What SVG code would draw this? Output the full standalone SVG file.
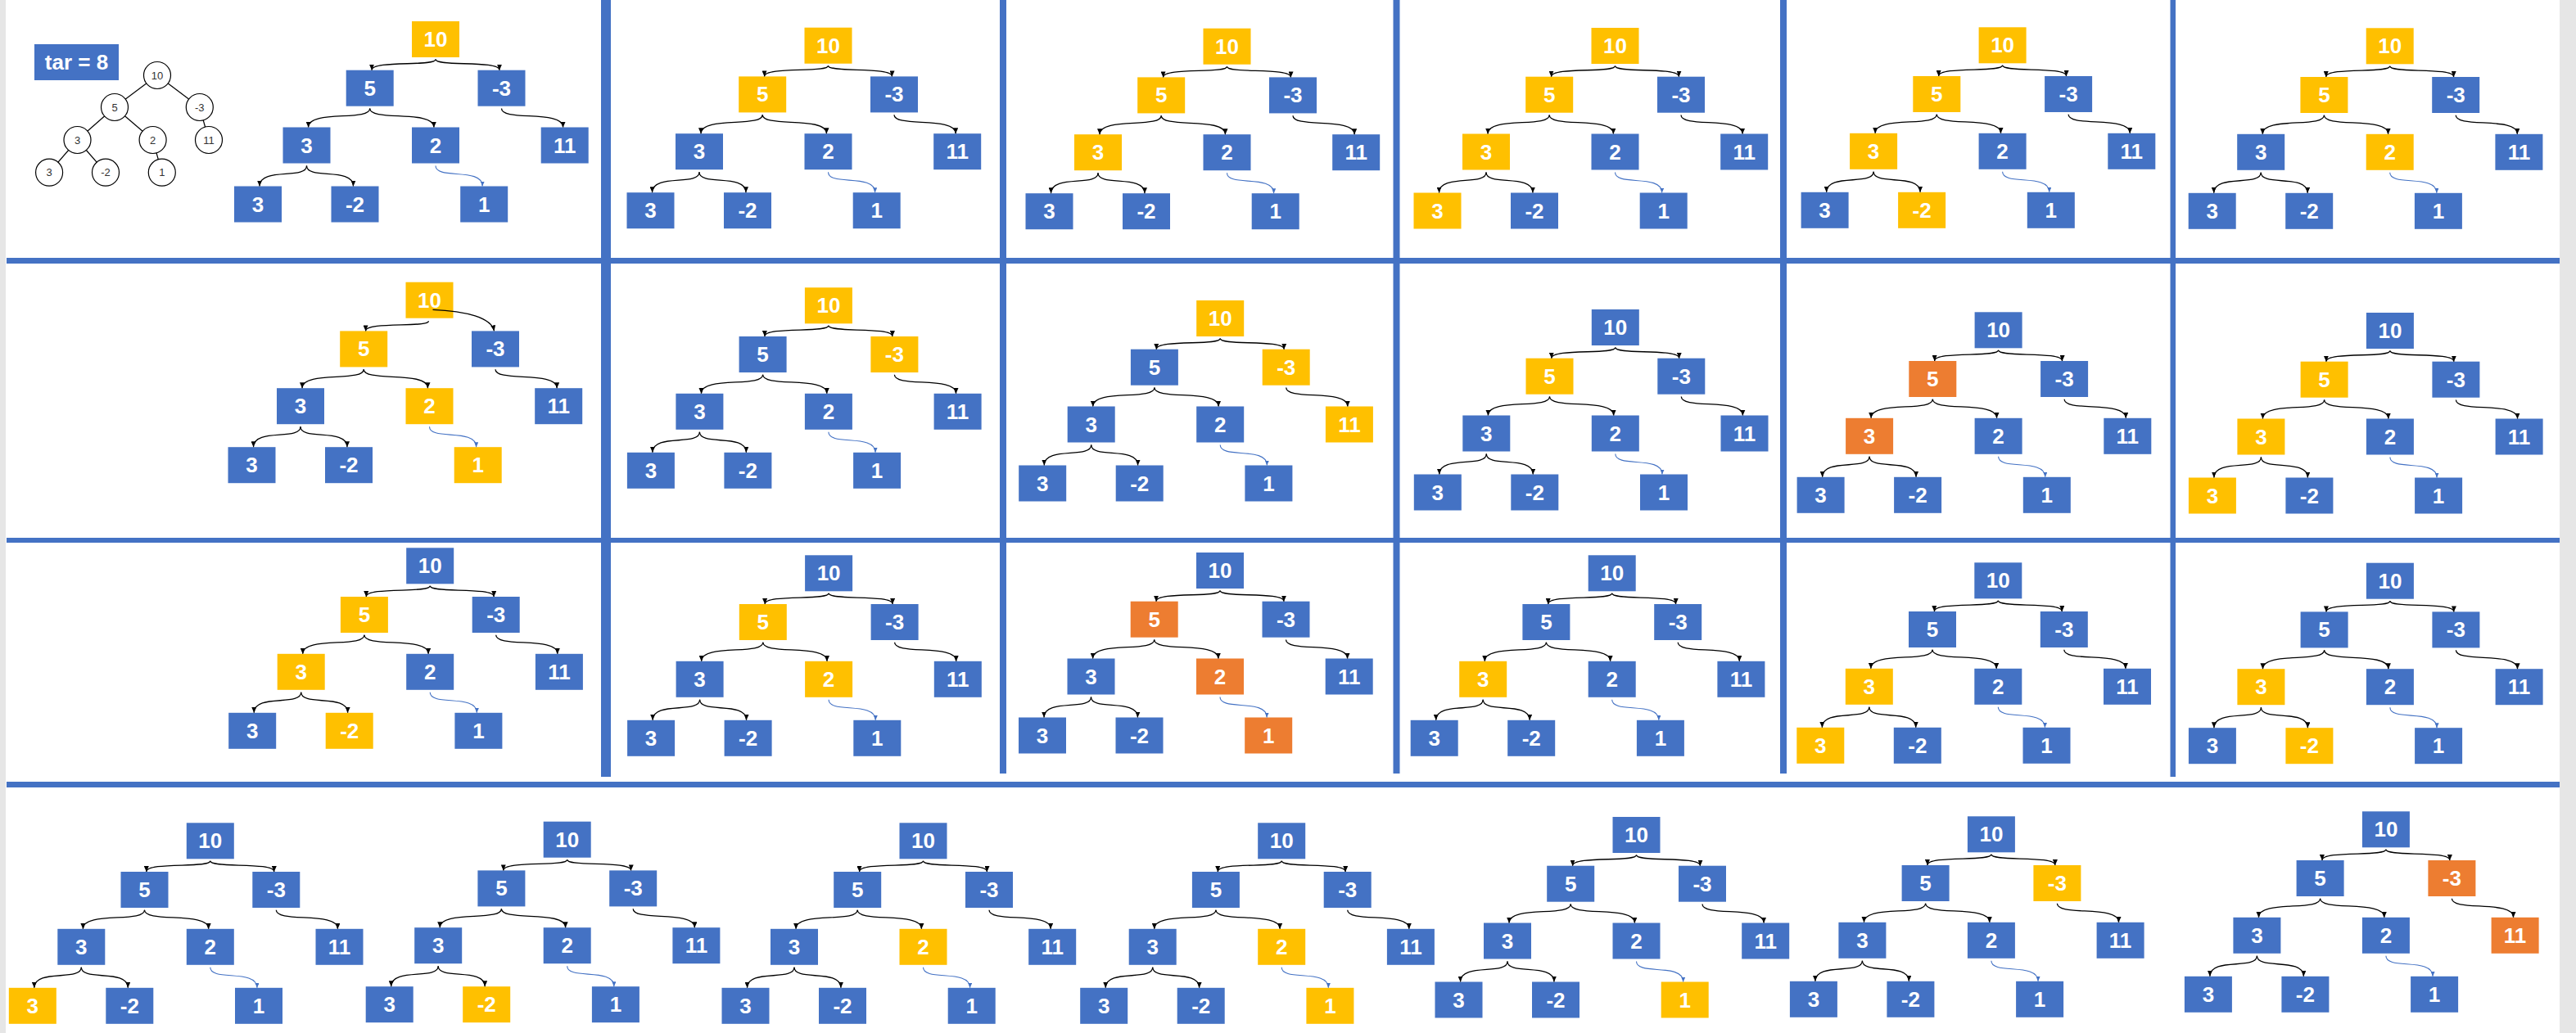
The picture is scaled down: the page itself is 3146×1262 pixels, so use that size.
<svg xmlns="http://www.w3.org/2000/svg" xmlns:xlink="http://www.w3.org/1999/xlink" width="3146" height="1262" viewBox="0 0 3146 1262">
<style>
.B{fill:#4472C4}.Y{fill:#FFC000}.O{fill:#ED7D31}
.tree text{font-family:"Liberation Sans",Arial,sans-serif;font-weight:bold;font-size:26px;fill:#fff;text-anchor:middle}
.sep{fill:#4472C4}
.e{fill:none;stroke:#000;stroke-width:1.3;marker-end:url(#ah)}
.eb{fill:none;stroke:#4472C4;stroke-width:1.1;marker-end:url(#ahb)}
.c circle{fill:#fff;stroke:#000;stroke-width:1.2}
.c text{font-family:"Liberation Sans",Arial,sans-serif;font-size:13px;fill:#333;text-anchor:middle}
.cl line{stroke:#000;stroke-width:1.2}
</style>
<defs>
<marker id="ah" viewBox="0 0 7 6" refX="7" refY="3" markerWidth="7" markerHeight="6" markerUnits="userSpaceOnUse" orient="auto"><path d="M0,0 L7,3 L0,6 z" fill="#000"/></marker>
<marker id="ahb" viewBox="0 0 7 6" refX="7" refY="3" markerWidth="6" markerHeight="5" markerUnits="userSpaceOnUse" orient="auto"><path d="M0,0 L7,3 L0,6 z" fill="#4472C4"/></marker>
<g id="edges">
<path class="e" d="M0 46.5 C0 55.7 -78 47.2 -78 59.7"/>
<path class="e" d="M0 46.5 C0 55.7 78 47.2 78 59.7"/>
<path class="e" d="M-80.3 106.5 C-80.3 122.6 -155.5 107.7 -155.5 129.5"/>
<path class="e" d="M-80.3 106.5 C-80.3 122.6 -2 107.7 -2 129.5"/>
<path class="e" d="M80.5 106.5 C80.5 122.6 155.7 107.7 155.7 129.5"/>
<path class="e" d="M-157.5 176.5 C-157.5 194 -215 177.8 -215 201.5"/>
<path class="e" d="M-157.5 176.5 C-157.5 194 -100.5 177.8 -100.5 201.5"/>
<path class="eb" d="M0 176.5 C0 194 57.2 177.8 57.2 201.5"/>
</g>
</defs>
<rect width="3146" height="1262" fill="#fff"/>
<rect x="0" y="0" width="7" height="1262" fill="#e6e6e6"/>
<rect x="3126" y="0" width="20" height="1262" fill="#e6e6e6"/>
<g id="separators">
<rect class="sep" x="8" y="315" width="3118" height="7"/>
<rect class="sep" x="8" y="657" width="3118" height="6"/>
<rect class="sep" x="8" y="955" width="3118" height="7"/>
<rect class="sep" x="734" y="0" width="12" height="949"/>
<rect class="sep" x="1221" y="0" width="8" height="945"/>
<rect class="sep" x="1701.5" y="0" width="8" height="945"/>
<rect class="sep" x="2174" y="0" width="8" height="945"/>
<rect class="sep" x="2650.5" y="0" width="6.5" height="949"/>
</g>
<g id="target">
<rect class="B" x="42" y="54" width="103" height="44"/>
<text x="93.5" y="85" font-family="Liberation Sans, Arial, sans-serif" font-weight="bold" font-size="26" fill="#fff" text-anchor="middle">tar = 8</text>
</g>
<g id="small-tree">
<g class="cl" id="small-tree-links">
<line x1="192" y1="92" x2="140" y2="131"/><line x1="192" y1="92" x2="243.8" y2="131"/>
<line x1="140" y1="131" x2="94.5" y2="171"/><line x1="140" y1="131" x2="186.6" y2="171"/>
<line x1="243.8" y1="131" x2="255" y2="171"/>
<line x1="94.5" y1="171" x2="60.1" y2="210.7"/><line x1="94.5" y1="171" x2="129" y2="210.7"/>
<line x1="186.6" y1="171" x2="197.8" y2="210.7"/>
</g>
<g class="c" id="s10"><circle cx="192" cy="92" r="16.5"/><text x="192" y="96.5">10</text></g>
<g class="c" id="s5"><circle cx="140" cy="131" r="16.5"/><text x="140" y="135.5">5</text></g>
<g class="c" id="sm3"><circle cx="243.8" cy="131" r="16.5"/><text x="243.8" y="135.5">-3</text></g>
<g class="c" id="s3"><circle cx="94.5" cy="171" r="16.5"/><text x="94.5" y="175.5">3</text></g>
<g class="c" id="s2"><circle cx="186.6" cy="171" r="16.5"/><text x="186.6" y="175.5">2</text></g>
<g class="c" id="s11"><circle cx="255" cy="171" r="16.5"/><text x="255" y="175.5">11</text></g>
<g class="c" id="s3b"><circle cx="60.1" cy="210.7" r="16.5"/><text x="60.1" y="215.2">3</text></g>
<g class="c" id="sm2"><circle cx="129" cy="210.7" r="16.5"/><text x="129" y="215.2">-2</text></g>
<g class="c" id="s1"><circle cx="197.8" cy="210.7" r="16.5"/><text x="197.8" y="215.2">1</text></g>
</g>

<g class="tree" id="r1c1" transform="translate(532,26)">
<g id="r1c1-n10"><rect class="Y" x="-29" y="0" width="58" height="44"/><text x="0" y="31">10</text></g>
<g id="r1c1-n5"><rect class="B" x="-109.3" y="59.7" width="58" height="44"/><text x="-80.3" y="90.7">5</text></g>
<g id="r1c1-nm3"><rect class="B" x="51.5" y="59.7" width="58" height="44"/><text x="80.5" y="90.7">-3</text></g>
<g id="r1c1-n3"><rect class="B" x="-186.5" y="129.5" width="58" height="44"/><text x="-157.5" y="160.5">3</text></g>
<g id="r1c1-n2"><rect class="B" x="-29" y="129.5" width="58" height="44"/><text x="0" y="160.5">2</text></g>
<g id="r1c1-n11"><rect class="B" x="128.7" y="129.5" width="58" height="44"/><text x="157.7" y="160.5">11</text></g>
<g id="r1c1-n3b"><rect class="B" x="-246" y="201.5" width="58" height="44"/><text x="-217" y="232.5">3</text></g>
<g id="r1c1-nm2"><rect class="B" x="-127.5" y="201.5" width="58" height="44"/><text x="-98.5" y="232.5">-2</text></g>
<g id="r1c1-n1"><rect class="B" x="30.2" y="201.5" width="58" height="44"/><text x="59.2" y="232.5">1</text></g>
</g>
<g class="tree" id="r1c2" transform="translate(1011.5,33.7)">
<g id="r1c2-n10"><rect class="Y" x="-29" y="0" width="58" height="44"/><text x="0" y="31">10</text></g>
<g id="r1c2-n5"><rect class="Y" x="-109.3" y="59.7" width="58" height="44"/><text x="-80.3" y="90.7">5</text></g>
<g id="r1c2-nm3"><rect class="B" x="51.5" y="59.7" width="58" height="44"/><text x="80.5" y="90.7">-3</text></g>
<g id="r1c2-n3"><rect class="B" x="-186.5" y="129.5" width="58" height="44"/><text x="-157.5" y="160.5">3</text></g>
<g id="r1c2-n2"><rect class="B" x="-29" y="129.5" width="58" height="44"/><text x="0" y="160.5">2</text></g>
<g id="r1c2-n11"><rect class="B" x="128.7" y="129.5" width="58" height="44"/><text x="157.7" y="160.5">11</text></g>
<g id="r1c2-n3b"><rect class="B" x="-246" y="201.5" width="58" height="44"/><text x="-217" y="232.5">3</text></g>
<g id="r1c2-nm2"><rect class="B" x="-127.5" y="201.5" width="58" height="44"/><text x="-98.5" y="232.5">-2</text></g>
<g id="r1c2-n1"><rect class="B" x="30.2" y="201.5" width="58" height="44"/><text x="59.2" y="232.5">1</text></g>
</g>
<g class="tree" id="r1c3" transform="translate(1498.5,34.7)">
<g id="r1c3-n10"><rect class="Y" x="-29" y="0" width="58" height="44"/><text x="0" y="31">10</text></g>
<g id="r1c3-n5"><rect class="Y" x="-109.3" y="59.7" width="58" height="44"/><text x="-80.3" y="90.7">5</text></g>
<g id="r1c3-nm3"><rect class="B" x="51.5" y="59.7" width="58" height="44"/><text x="80.5" y="90.7">-3</text></g>
<g id="r1c3-n3"><rect class="Y" x="-186.5" y="129.5" width="58" height="44"/><text x="-157.5" y="160.5">3</text></g>
<g id="r1c3-n2"><rect class="B" x="-29" y="129.5" width="58" height="44"/><text x="0" y="160.5">2</text></g>
<g id="r1c3-n11"><rect class="B" x="128.7" y="129.5" width="58" height="44"/><text x="157.7" y="160.5">11</text></g>
<g id="r1c3-n3b"><rect class="B" x="-246" y="201.5" width="58" height="44"/><text x="-217" y="232.5">3</text></g>
<g id="r1c3-nm2"><rect class="B" x="-127.5" y="201.5" width="58" height="44"/><text x="-98.5" y="232.5">-2</text></g>
<g id="r1c3-n1"><rect class="B" x="30.2" y="201.5" width="58" height="44"/><text x="59.2" y="232.5">1</text></g>
</g>
<g class="tree" id="r1c4" transform="translate(1972.5,34)">
<g id="r1c4-n10"><rect class="Y" x="-29" y="0" width="58" height="44"/><text x="0" y="31">10</text></g>
<g id="r1c4-n5"><rect class="Y" x="-109.3" y="59.7" width="58" height="44"/><text x="-80.3" y="90.7">5</text></g>
<g id="r1c4-nm3"><rect class="B" x="51.5" y="59.7" width="58" height="44"/><text x="80.5" y="90.7">-3</text></g>
<g id="r1c4-n3"><rect class="Y" x="-186.5" y="129.5" width="58" height="44"/><text x="-157.5" y="160.5">3</text></g>
<g id="r1c4-n2"><rect class="B" x="-29" y="129.5" width="58" height="44"/><text x="0" y="160.5">2</text></g>
<g id="r1c4-n11"><rect class="B" x="128.7" y="129.5" width="58" height="44"/><text x="157.7" y="160.5">11</text></g>
<g id="r1c4-n3b"><rect class="Y" x="-246" y="201.5" width="58" height="44"/><text x="-217" y="232.5">3</text></g>
<g id="r1c4-nm2"><rect class="B" x="-127.5" y="201.5" width="58" height="44"/><text x="-98.5" y="232.5">-2</text></g>
<g id="r1c4-n1"><rect class="B" x="30.2" y="201.5" width="58" height="44"/><text x="59.2" y="232.5">1</text></g>
</g>
<g class="tree" id="r1c5" transform="translate(2445.6,33.3)">
<g id="r1c5-n10"><rect class="Y" x="-29" y="0" width="58" height="44"/><text x="0" y="31">10</text></g>
<g id="r1c5-n5"><rect class="Y" x="-109.3" y="59.7" width="58" height="44"/><text x="-80.3" y="90.7">5</text></g>
<g id="r1c5-nm3"><rect class="B" x="51.5" y="59.7" width="58" height="44"/><text x="80.5" y="90.7">-3</text></g>
<g id="r1c5-n3"><rect class="Y" x="-186.5" y="129.5" width="58" height="44"/><text x="-157.5" y="160.5">3</text></g>
<g id="r1c5-n2"><rect class="B" x="-29" y="129.5" width="58" height="44"/><text x="0" y="160.5">2</text></g>
<g id="r1c5-n11"><rect class="B" x="128.7" y="129.5" width="58" height="44"/><text x="157.7" y="160.5">11</text></g>
<g id="r1c5-n3b"><rect class="B" x="-246" y="201.5" width="58" height="44"/><text x="-217" y="232.5">3</text></g>
<g id="r1c5-nm2"><rect class="Y" x="-127.5" y="201.5" width="58" height="44"/><text x="-98.5" y="232.5">-2</text></g>
<g id="r1c5-n1"><rect class="B" x="30.2" y="201.5" width="58" height="44"/><text x="59.2" y="232.5">1</text></g>
</g>
<g class="tree" id="r1c6" transform="translate(2918.7,34.3)">
<g id="r1c6-n10"><rect class="Y" x="-29" y="0" width="58" height="44"/><text x="0" y="31">10</text></g>
<g id="r1c6-n5"><rect class="Y" x="-109.3" y="59.7" width="58" height="44"/><text x="-80.3" y="90.7">5</text></g>
<g id="r1c6-nm3"><rect class="B" x="51.5" y="59.7" width="58" height="44"/><text x="80.5" y="90.7">-3</text></g>
<g id="r1c6-n3"><rect class="B" x="-186.5" y="129.5" width="58" height="44"/><text x="-157.5" y="160.5">3</text></g>
<g id="r1c6-n2"><rect class="Y" x="-29" y="129.5" width="58" height="44"/><text x="0" y="160.5">2</text></g>
<g id="r1c6-n11"><rect class="B" x="128.7" y="129.5" width="58" height="44"/><text x="157.7" y="160.5">11</text></g>
<g id="r1c6-n3b"><rect class="B" x="-246" y="201.5" width="58" height="44"/><text x="-217" y="232.5">3</text></g>
<g id="r1c6-nm2"><rect class="B" x="-127.5" y="201.5" width="58" height="44"/><text x="-98.5" y="232.5">-2</text></g>
<g id="r1c6-n1"><rect class="B" x="30.2" y="201.5" width="58" height="44"/><text x="59.2" y="232.5">1</text></g>
</g>

<g class="tree" id="r2c1" transform="translate(524.5,344.7)">
<g id="r2c1-n10"><rect class="Y" x="-29" y="0" width="58" height="44"/><text x="0" y="31">10</text></g>
<g id="r2c1-n5"><rect class="Y" x="-109.3" y="59.7" width="58" height="44"/><text x="-80.3" y="90.7">5</text></g>
<g id="r2c1-nm3"><rect class="B" x="51.5" y="59.7" width="58" height="44"/><text x="80.5" y="90.7">-3</text></g>
<g id="r2c1-n3"><rect class="B" x="-186.5" y="129.5" width="58" height="44"/><text x="-157.5" y="160.5">3</text></g>
<g id="r2c1-n2"><rect class="Y" x="-29" y="129.5" width="58" height="44"/><text x="0" y="160.5">2</text></g>
<g id="r2c1-n11"><rect class="B" x="128.7" y="129.5" width="58" height="44"/><text x="157.7" y="160.5">11</text></g>
<g id="r2c1-n3b"><rect class="B" x="-246" y="201.5" width="58" height="44"/><text x="-217" y="232.5">3</text></g>
<g id="r2c1-nm2"><rect class="B" x="-127.5" y="201.5" width="58" height="44"/><text x="-98.5" y="232.5">-2</text></g>
<g id="r2c1-n1"><rect class="Y" x="30.2" y="201.5" width="58" height="44"/><text x="59.2" y="232.5">1</text></g>
</g>
<g class="tree" id="r2c2" transform="translate(1011.9,351.3)">
<g id="r2c2-n10"><rect class="Y" x="-29" y="0" width="58" height="44"/><text x="0" y="31">10</text></g>
<g id="r2c2-n5"><rect class="B" x="-109.3" y="59.7" width="58" height="44"/><text x="-80.3" y="90.7">5</text></g>
<g id="r2c2-nm3"><rect class="Y" x="51.5" y="59.7" width="58" height="44"/><text x="80.5" y="90.7">-3</text></g>
<g id="r2c2-n3"><rect class="B" x="-186.5" y="129.5" width="58" height="44"/><text x="-157.5" y="160.5">3</text></g>
<g id="r2c2-n2"><rect class="B" x="-29" y="129.5" width="58" height="44"/><text x="0" y="160.5">2</text></g>
<g id="r2c2-n11"><rect class="B" x="128.7" y="129.5" width="58" height="44"/><text x="157.7" y="160.5">11</text></g>
<g id="r2c2-n3b"><rect class="B" x="-246" y="201.5" width="58" height="44"/><text x="-217" y="232.5">3</text></g>
<g id="r2c2-nm2"><rect class="B" x="-127.5" y="201.5" width="58" height="44"/><text x="-98.5" y="232.5">-2</text></g>
<g id="r2c2-n1"><rect class="B" x="30.2" y="201.5" width="58" height="44"/><text x="59.2" y="232.5">1</text></g>
</g>
<g class="tree" id="r2c3" transform="translate(1490.2,367)">
<g id="r2c3-n10"><rect class="Y" x="-29" y="0" width="58" height="44"/><text x="0" y="31">10</text></g>
<g id="r2c3-n5"><rect class="B" x="-109.3" y="59.7" width="58" height="44"/><text x="-80.3" y="90.7">5</text></g>
<g id="r2c3-nm3"><rect class="Y" x="51.5" y="59.7" width="58" height="44"/><text x="80.5" y="90.7">-3</text></g>
<g id="r2c3-n3"><rect class="B" x="-186.5" y="129.5" width="58" height="44"/><text x="-157.5" y="160.5">3</text></g>
<g id="r2c3-n2"><rect class="B" x="-29" y="129.5" width="58" height="44"/><text x="0" y="160.5">2</text></g>
<g id="r2c3-n11"><rect class="Y" x="128.7" y="129.5" width="58" height="44"/><text x="157.7" y="160.5">11</text></g>
<g id="r2c3-n3b"><rect class="B" x="-246" y="201.5" width="58" height="44"/><text x="-217" y="232.5">3</text></g>
<g id="r2c3-nm2"><rect class="B" x="-127.5" y="201.5" width="58" height="44"/><text x="-98.5" y="232.5">-2</text></g>
<g id="r2c3-n1"><rect class="B" x="30.2" y="201.5" width="58" height="44"/><text x="59.2" y="232.5">1</text></g>
</g>
<g class="tree" id="r2c4" transform="translate(1972.8,378)">
<g id="r2c4-n10"><rect class="B" x="-29" y="0" width="58" height="44"/><text x="0" y="31">10</text></g>
<g id="r2c4-n5"><rect class="Y" x="-109.3" y="59.7" width="58" height="44"/><text x="-80.3" y="90.7">5</text></g>
<g id="r2c4-nm3"><rect class="B" x="51.5" y="59.7" width="58" height="44"/><text x="80.5" y="90.7">-3</text></g>
<g id="r2c4-n3"><rect class="B" x="-186.5" y="129.5" width="58" height="44"/><text x="-157.5" y="160.5">3</text></g>
<g id="r2c4-n2"><rect class="B" x="-29" y="129.5" width="58" height="44"/><text x="0" y="160.5">2</text></g>
<g id="r2c4-n11"><rect class="B" x="128.7" y="129.5" width="58" height="44"/><text x="157.7" y="160.5">11</text></g>
<g id="r2c4-n3b"><rect class="B" x="-246" y="201.5" width="58" height="44"/><text x="-217" y="232.5">3</text></g>
<g id="r2c4-nm2"><rect class="B" x="-127.5" y="201.5" width="58" height="44"/><text x="-98.5" y="232.5">-2</text></g>
<g id="r2c4-n1"><rect class="B" x="30.2" y="201.5" width="58" height="44"/><text x="59.2" y="232.5">1</text></g>
</g>
<g class="tree" id="r2c5" transform="translate(2440.6,381.3)">
<g id="r2c5-n10"><rect class="B" x="-29" y="0" width="58" height="44"/><text x="0" y="31">10</text></g>
<g id="r2c5-n5"><rect class="O" x="-109.3" y="59.7" width="58" height="44"/><text x="-80.3" y="90.7">5</text></g>
<g id="r2c5-nm3"><rect class="B" x="51.5" y="59.7" width="58" height="44"/><text x="80.5" y="90.7">-3</text></g>
<g id="r2c5-n3"><rect class="O" x="-186.5" y="129.5" width="58" height="44"/><text x="-157.5" y="160.5">3</text></g>
<g id="r2c5-n2"><rect class="B" x="-29" y="129.5" width="58" height="44"/><text x="0" y="160.5">2</text></g>
<g id="r2c5-n11"><rect class="B" x="128.7" y="129.5" width="58" height="44"/><text x="157.7" y="160.5">11</text></g>
<g id="r2c5-n3b"><rect class="B" x="-246" y="201.5" width="58" height="44"/><text x="-217" y="232.5">3</text></g>
<g id="r2c5-nm2"><rect class="B" x="-127.5" y="201.5" width="58" height="44"/><text x="-98.5" y="232.5">-2</text></g>
<g id="r2c5-n1"><rect class="B" x="30.2" y="201.5" width="58" height="44"/><text x="59.2" y="232.5">1</text></g>
</g>
<g class="tree" id="r2c6" transform="translate(2918.9,382)">
<g id="r2c6-n10"><rect class="B" x="-29" y="0" width="58" height="44"/><text x="0" y="31">10</text></g>
<g id="r2c6-n5"><rect class="Y" x="-109.3" y="59.7" width="58" height="44"/><text x="-80.3" y="90.7">5</text></g>
<g id="r2c6-nm3"><rect class="B" x="51.5" y="59.7" width="58" height="44"/><text x="80.5" y="90.7">-3</text></g>
<g id="r2c6-n3"><rect class="Y" x="-186.5" y="129.5" width="58" height="44"/><text x="-157.5" y="160.5">3</text></g>
<g id="r2c6-n2"><rect class="B" x="-29" y="129.5" width="58" height="44"/><text x="0" y="160.5">2</text></g>
<g id="r2c6-n11"><rect class="B" x="128.7" y="129.5" width="58" height="44"/><text x="157.7" y="160.5">11</text></g>
<g id="r2c6-n3b"><rect class="Y" x="-246" y="201.5" width="58" height="44"/><text x="-217" y="232.5">3</text></g>
<g id="r2c6-nm2"><rect class="B" x="-127.5" y="201.5" width="58" height="44"/><text x="-98.5" y="232.5">-2</text></g>
<g id="r2c6-n1"><rect class="B" x="30.2" y="201.5" width="58" height="44"/><text x="59.2" y="232.5">1</text></g>
</g>

<g class="tree" id="r3c1" transform="translate(525.2,669.3)">
<g id="r3c1-n10"><rect class="B" x="-29" y="0" width="58" height="44"/><text x="0" y="31">10</text></g>
<g id="r3c1-n5"><rect class="Y" x="-109.3" y="59.7" width="58" height="44"/><text x="-80.3" y="90.7">5</text></g>
<g id="r3c1-nm3"><rect class="B" x="51.5" y="59.7" width="58" height="44"/><text x="80.5" y="90.7">-3</text></g>
<g id="r3c1-n3"><rect class="Y" x="-186.5" y="129.5" width="58" height="44"/><text x="-157.5" y="160.5">3</text></g>
<g id="r3c1-n2"><rect class="B" x="-29" y="129.5" width="58" height="44"/><text x="0" y="160.5">2</text></g>
<g id="r3c1-n11"><rect class="B" x="128.7" y="129.5" width="58" height="44"/><text x="157.7" y="160.5">11</text></g>
<g id="r3c1-n3b"><rect class="B" x="-246" y="201.5" width="58" height="44"/><text x="-217" y="232.5">3</text></g>
<g id="r3c1-nm2"><rect class="Y" x="-127.5" y="201.5" width="58" height="44"/><text x="-98.5" y="232.5">-2</text></g>
<g id="r3c1-n1"><rect class="B" x="30.2" y="201.5" width="58" height="44"/><text x="59.2" y="232.5">1</text></g>
</g>
<g class="tree" id="r3c2" transform="translate(1012.1,678.3)">
<g id="r3c2-n10"><rect class="B" x="-29" y="0" width="58" height="44"/><text x="0" y="31">10</text></g>
<g id="r3c2-n5"><rect class="Y" x="-109.3" y="59.7" width="58" height="44"/><text x="-80.3" y="90.7">5</text></g>
<g id="r3c2-nm3"><rect class="B" x="51.5" y="59.7" width="58" height="44"/><text x="80.5" y="90.7">-3</text></g>
<g id="r3c2-n3"><rect class="B" x="-186.5" y="129.5" width="58" height="44"/><text x="-157.5" y="160.5">3</text></g>
<g id="r3c2-n2"><rect class="Y" x="-29" y="129.5" width="58" height="44"/><text x="0" y="160.5">2</text></g>
<g id="r3c2-n11"><rect class="B" x="128.7" y="129.5" width="58" height="44"/><text x="157.7" y="160.5">11</text></g>
<g id="r3c2-n3b"><rect class="B" x="-246" y="201.5" width="58" height="44"/><text x="-217" y="232.5">3</text></g>
<g id="r3c2-nm2"><rect class="B" x="-127.5" y="201.5" width="58" height="44"/><text x="-98.5" y="232.5">-2</text></g>
<g id="r3c2-n1"><rect class="B" x="30.2" y="201.5" width="58" height="44"/><text x="59.2" y="232.5">1</text></g>
</g>
<g class="tree" id="r3c3" transform="translate(1490,675)">
<g id="r3c3-n10"><rect class="B" x="-29" y="0" width="58" height="44"/><text x="0" y="31">10</text></g>
<g id="r3c3-n5"><rect class="O" x="-109.3" y="59.7" width="58" height="44"/><text x="-80.3" y="90.7">5</text></g>
<g id="r3c3-nm3"><rect class="B" x="51.5" y="59.7" width="58" height="44"/><text x="80.5" y="90.7">-3</text></g>
<g id="r3c3-n3"><rect class="B" x="-186.5" y="129.5" width="58" height="44"/><text x="-157.5" y="160.5">3</text></g>
<g id="r3c3-n2"><rect class="O" x="-29" y="129.5" width="58" height="44"/><text x="0" y="160.5">2</text></g>
<g id="r3c3-n11"><rect class="B" x="128.7" y="129.5" width="58" height="44"/><text x="157.7" y="160.5">11</text></g>
<g id="r3c3-n3b"><rect class="B" x="-246" y="201.5" width="58" height="44"/><text x="-217" y="232.5">3</text></g>
<g id="r3c3-nm2"><rect class="B" x="-127.5" y="201.5" width="58" height="44"/><text x="-98.5" y="232.5">-2</text></g>
<g id="r3c3-n1"><rect class="O" x="30.2" y="201.5" width="58" height="44"/><text x="59.2" y="232.5">1</text></g>
</g>
<g class="tree" id="r3c4" transform="translate(1968.7,678.3)">
<g id="r3c4-n10"><rect class="B" x="-29" y="0" width="58" height="44"/><text x="0" y="31">10</text></g>
<g id="r3c4-n5"><rect class="B" x="-109.3" y="59.7" width="58" height="44"/><text x="-80.3" y="90.7">5</text></g>
<g id="r3c4-nm3"><rect class="B" x="51.5" y="59.7" width="58" height="44"/><text x="80.5" y="90.7">-3</text></g>
<g id="r3c4-n3"><rect class="Y" x="-186.5" y="129.5" width="58" height="44"/><text x="-157.5" y="160.5">3</text></g>
<g id="r3c4-n2"><rect class="B" x="-29" y="129.5" width="58" height="44"/><text x="0" y="160.5">2</text></g>
<g id="r3c4-n11"><rect class="B" x="128.7" y="129.5" width="58" height="44"/><text x="157.7" y="160.5">11</text></g>
<g id="r3c4-n3b"><rect class="B" x="-246" y="201.5" width="58" height="44"/><text x="-217" y="232.5">3</text></g>
<g id="r3c4-nm2"><rect class="B" x="-127.5" y="201.5" width="58" height="44"/><text x="-98.5" y="232.5">-2</text></g>
<g id="r3c4-n1"><rect class="B" x="30.2" y="201.5" width="58" height="44"/><text x="59.2" y="232.5">1</text></g>
</g>
<g class="tree" id="r3c5" transform="translate(2440.3,687.3)">
<g id="r3c5-n10"><rect class="B" x="-29" y="0" width="58" height="44"/><text x="0" y="31">10</text></g>
<g id="r3c5-n5"><rect class="B" x="-109.3" y="59.7" width="58" height="44"/><text x="-80.3" y="90.7">5</text></g>
<g id="r3c5-nm3"><rect class="B" x="51.5" y="59.7" width="58" height="44"/><text x="80.5" y="90.7">-3</text></g>
<g id="r3c5-n3"><rect class="Y" x="-186.5" y="129.5" width="58" height="44"/><text x="-157.5" y="160.5">3</text></g>
<g id="r3c5-n2"><rect class="B" x="-29" y="129.5" width="58" height="44"/><text x="0" y="160.5">2</text></g>
<g id="r3c5-n11"><rect class="B" x="128.7" y="129.5" width="58" height="44"/><text x="157.7" y="160.5">11</text></g>
<g id="r3c5-n3b"><rect class="Y" x="-246" y="201.5" width="58" height="44"/><text x="-217" y="232.5">3</text></g>
<g id="r3c5-nm2"><rect class="B" x="-127.5" y="201.5" width="58" height="44"/><text x="-98.5" y="232.5">-2</text></g>
<g id="r3c5-n1"><rect class="B" x="30.2" y="201.5" width="58" height="44"/><text x="59.2" y="232.5">1</text></g>
</g>
<g class="tree" id="r3c6" transform="translate(2918.9,687.7)">
<g id="r3c6-n10"><rect class="B" x="-29" y="0" width="58" height="44"/><text x="0" y="31">10</text></g>
<g id="r3c6-n5"><rect class="B" x="-109.3" y="59.7" width="58" height="44"/><text x="-80.3" y="90.7">5</text></g>
<g id="r3c6-nm3"><rect class="B" x="51.5" y="59.7" width="58" height="44"/><text x="80.5" y="90.7">-3</text></g>
<g id="r3c6-n3"><rect class="Y" x="-186.5" y="129.5" width="58" height="44"/><text x="-157.5" y="160.5">3</text></g>
<g id="r3c6-n2"><rect class="B" x="-29" y="129.5" width="58" height="44"/><text x="0" y="160.5">2</text></g>
<g id="r3c6-n11"><rect class="B" x="128.7" y="129.5" width="58" height="44"/><text x="157.7" y="160.5">11</text></g>
<g id="r3c6-n3b"><rect class="B" x="-246" y="201.5" width="58" height="44"/><text x="-217" y="232.5">3</text></g>
<g id="r3c6-nm2"><rect class="Y" x="-127.5" y="201.5" width="58" height="44"/><text x="-98.5" y="232.5">-2</text></g>
<g id="r3c6-n1"><rect class="B" x="30.2" y="201.5" width="58" height="44"/><text x="59.2" y="232.5">1</text></g>
</g>

<g class="tree" id="r4c1" transform="translate(256.8,1005.3)">
<g id="r4c1-n10"><rect class="B" x="-29" y="0" width="58" height="44"/><text x="0" y="31">10</text></g>
<g id="r4c1-n5"><rect class="B" x="-109.3" y="59.7" width="58" height="44"/><text x="-80.3" y="90.7">5</text></g>
<g id="r4c1-nm3"><rect class="B" x="51.5" y="59.7" width="58" height="44"/><text x="80.5" y="90.7">-3</text></g>
<g id="r4c1-n3"><rect class="B" x="-186.5" y="129.5" width="58" height="44"/><text x="-157.5" y="160.5">3</text></g>
<g id="r4c1-n2"><rect class="B" x="-29" y="129.5" width="58" height="44"/><text x="0" y="160.5">2</text></g>
<g id="r4c1-n11"><rect class="B" x="128.7" y="129.5" width="58" height="44"/><text x="157.7" y="160.5">11</text></g>
<g id="r4c1-n3b"><rect class="Y" x="-246" y="201.5" width="58" height="44"/><text x="-217" y="232.5">3</text></g>
<g id="r4c1-nm2"><rect class="B" x="-127.5" y="201.5" width="58" height="44"/><text x="-98.5" y="232.5">-2</text></g>
<g id="r4c1-n1"><rect class="B" x="30.2" y="201.5" width="58" height="44"/><text x="59.2" y="232.5">1</text></g>
</g>
<g class="tree" id="r4c2" transform="translate(692.7,1003.7)">
<g id="r4c2-n10"><rect class="B" x="-29" y="0" width="58" height="44"/><text x="0" y="31">10</text></g>
<g id="r4c2-n5"><rect class="B" x="-109.3" y="59.7" width="58" height="44"/><text x="-80.3" y="90.7">5</text></g>
<g id="r4c2-nm3"><rect class="B" x="51.5" y="59.7" width="58" height="44"/><text x="80.5" y="90.7">-3</text></g>
<g id="r4c2-n3"><rect class="B" x="-186.5" y="129.5" width="58" height="44"/><text x="-157.5" y="160.5">3</text></g>
<g id="r4c2-n2"><rect class="B" x="-29" y="129.5" width="58" height="44"/><text x="0" y="160.5">2</text></g>
<g id="r4c2-n11"><rect class="B" x="128.7" y="129.5" width="58" height="44"/><text x="157.7" y="160.5">11</text></g>
<g id="r4c2-n3b"><rect class="B" x="-246" y="201.5" width="58" height="44"/><text x="-217" y="232.5">3</text></g>
<g id="r4c2-nm2"><rect class="Y" x="-127.5" y="201.5" width="58" height="44"/><text x="-98.5" y="232.5">-2</text></g>
<g id="r4c2-n1"><rect class="B" x="30.2" y="201.5" width="58" height="44"/><text x="59.2" y="232.5">1</text></g>
</g>
<g class="tree" id="r4c3" transform="translate(1127.5,1005.3)">
<g id="r4c3-n10"><rect class="B" x="-29" y="0" width="58" height="44"/><text x="0" y="31">10</text></g>
<g id="r4c3-n5"><rect class="B" x="-109.3" y="59.7" width="58" height="44"/><text x="-80.3" y="90.7">5</text></g>
<g id="r4c3-nm3"><rect class="B" x="51.5" y="59.7" width="58" height="44"/><text x="80.5" y="90.7">-3</text></g>
<g id="r4c3-n3"><rect class="B" x="-186.5" y="129.5" width="58" height="44"/><text x="-157.5" y="160.5">3</text></g>
<g id="r4c3-n2"><rect class="Y" x="-29" y="129.5" width="58" height="44"/><text x="0" y="160.5">2</text></g>
<g id="r4c3-n11"><rect class="B" x="128.7" y="129.5" width="58" height="44"/><text x="157.7" y="160.5">11</text></g>
<g id="r4c3-n3b"><rect class="B" x="-246" y="201.5" width="58" height="44"/><text x="-217" y="232.5">3</text></g>
<g id="r4c3-nm2"><rect class="B" x="-127.5" y="201.5" width="58" height="44"/><text x="-98.5" y="232.5">-2</text></g>
<g id="r4c3-n1"><rect class="B" x="30.2" y="201.5" width="58" height="44"/><text x="59.2" y="232.5">1</text></g>
</g>
<g class="tree" id="r4c4" transform="translate(1565.2,1005.3)">
<g id="r4c4-n10"><rect class="B" x="-29" y="0" width="58" height="44"/><text x="0" y="31">10</text></g>
<g id="r4c4-n5"><rect class="B" x="-109.3" y="59.7" width="58" height="44"/><text x="-80.3" y="90.7">5</text></g>
<g id="r4c4-nm3"><rect class="B" x="51.5" y="59.7" width="58" height="44"/><text x="80.5" y="90.7">-3</text></g>
<g id="r4c4-n3"><rect class="B" x="-186.5" y="129.5" width="58" height="44"/><text x="-157.5" y="160.5">3</text></g>
<g id="r4c4-n2"><rect class="Y" x="-29" y="129.5" width="58" height="44"/><text x="0" y="160.5">2</text></g>
<g id="r4c4-n11"><rect class="B" x="128.7" y="129.5" width="58" height="44"/><text x="157.7" y="160.5">11</text></g>
<g id="r4c4-n3b"><rect class="B" x="-246" y="201.5" width="58" height="44"/><text x="-217" y="232.5">3</text></g>
<g id="r4c4-nm2"><rect class="B" x="-127.5" y="201.5" width="58" height="44"/><text x="-98.5" y="232.5">-2</text></g>
<g id="r4c4-n1"><rect class="Y" x="30.2" y="201.5" width="58" height="44"/><text x="59.2" y="232.5">1</text></g>
</g>
<g class="tree" id="r4c5" transform="translate(1998.5,998)">
<g id="r4c5-n10"><rect class="B" x="-29" y="0" width="58" height="44"/><text x="0" y="31">10</text></g>
<g id="r4c5-n5"><rect class="B" x="-109.3" y="59.7" width="58" height="44"/><text x="-80.3" y="90.7">5</text></g>
<g id="r4c5-nm3"><rect class="B" x="51.5" y="59.7" width="58" height="44"/><text x="80.5" y="90.7">-3</text></g>
<g id="r4c5-n3"><rect class="B" x="-186.5" y="129.5" width="58" height="44"/><text x="-157.5" y="160.5">3</text></g>
<g id="r4c5-n2"><rect class="B" x="-29" y="129.5" width="58" height="44"/><text x="0" y="160.5">2</text></g>
<g id="r4c5-n11"><rect class="B" x="128.7" y="129.5" width="58" height="44"/><text x="157.7" y="160.5">11</text></g>
<g id="r4c5-n3b"><rect class="B" x="-246" y="201.5" width="58" height="44"/><text x="-217" y="232.5">3</text></g>
<g id="r4c5-nm2"><rect class="B" x="-127.5" y="201.5" width="58" height="44"/><text x="-98.5" y="232.5">-2</text></g>
<g id="r4c5-n1"><rect class="Y" x="30.2" y="201.5" width="58" height="44"/><text x="59.2" y="232.5">1</text></g>
</g>
<g class="tree" id="r4c6" transform="translate(2431.9,997.3)">
<g id="r4c6-n10"><rect class="B" x="-29" y="0" width="58" height="44"/><text x="0" y="31">10</text></g>
<g id="r4c6-n5"><rect class="B" x="-109.3" y="59.7" width="58" height="44"/><text x="-80.3" y="90.7">5</text></g>
<g id="r4c6-nm3"><rect class="Y" x="51.5" y="59.7" width="58" height="44"/><text x="80.5" y="90.7">-3</text></g>
<g id="r4c6-n3"><rect class="B" x="-186.5" y="129.5" width="58" height="44"/><text x="-157.5" y="160.5">3</text></g>
<g id="r4c6-n2"><rect class="B" x="-29" y="129.5" width="58" height="44"/><text x="0" y="160.5">2</text></g>
<g id="r4c6-n11"><rect class="B" x="128.7" y="129.5" width="58" height="44"/><text x="157.7" y="160.5">11</text></g>
<g id="r4c6-n3b"><rect class="B" x="-246" y="201.5" width="58" height="44"/><text x="-217" y="232.5">3</text></g>
<g id="r4c6-nm2"><rect class="B" x="-127.5" y="201.5" width="58" height="44"/><text x="-98.5" y="232.5">-2</text></g>
<g id="r4c6-n1"><rect class="B" x="30.2" y="201.5" width="58" height="44"/><text x="59.2" y="232.5">1</text></g>
</g>
<g class="tree" id="r4c7" transform="translate(2913.9,991.3)">
<g id="r4c7-n10"><rect class="B" x="-29" y="0" width="58" height="44"/><text x="0" y="31">10</text></g>
<g id="r4c7-n5"><rect class="B" x="-109.3" y="59.7" width="58" height="44"/><text x="-80.3" y="90.7">5</text></g>
<g id="r4c7-nm3"><rect class="O" x="51.5" y="59.7" width="58" height="44"/><text x="80.5" y="90.7">-3</text></g>
<g id="r4c7-n3"><rect class="B" x="-186.5" y="129.5" width="58" height="44"/><text x="-157.5" y="160.5">3</text></g>
<g id="r4c7-n2"><rect class="B" x="-29" y="129.5" width="58" height="44"/><text x="0" y="160.5">2</text></g>
<g id="r4c7-n11"><rect class="O" x="128.7" y="129.5" width="58" height="44"/><text x="157.7" y="160.5">11</text></g>
<g id="r4c7-n3b"><rect class="B" x="-246" y="201.5" width="58" height="44"/><text x="-217" y="232.5">3</text></g>
<g id="r4c7-nm2"><rect class="B" x="-127.5" y="201.5" width="58" height="44"/><text x="-98.5" y="232.5">-2</text></g>
<g id="r4c7-n1"><rect class="B" x="30.2" y="201.5" width="58" height="44"/><text x="59.2" y="232.5">1</text></g>
</g>

<g id="connectors">
<use href="#edges" x="532" y="26"/>
<use href="#edges" x="1011.5" y="33.7"/>
<use href="#edges" x="1498.5" y="34.7"/>
<use href="#edges" x="1972.5" y="34"/>
<use href="#edges" x="2445.6" y="33.3"/>
<use href="#edges" x="2918.7" y="34.3"/>
<g id="r2c1-edges" transform="translate(524.5,344.7)">
<path class="e" d="M-1 47.5 C-1 56 -78 47.8 -78 59.7"/>
<path class="e" d="M4 33.6 C45 35 76 44 79 59.7"/>
<path class="e" d="M-80.3 106.5 C-80.3 122.6 -155.5 107.7 -155.5 129.5"/>
<path class="e" d="M-80.3 106.5 C-80.3 122.6 -2 107.7 -2 129.5"/>
<path class="e" d="M80.5 106.5 C80.5 122.6 155.7 107.7 155.7 129.5"/>
<path class="e" d="M-157.5 176.5 C-157.5 194 -215 177.8 -215 201.5"/>
<path class="e" d="M-157.5 176.5 C-157.5 194 -100.5 177.8 -100.5 201.5"/>
<path class="eb" d="M0 176.5 C0 194 57.2 177.8 57.2 201.5"/>
</g>
<use href="#edges" x="1011.9" y="351.3"/>
<use href="#edges" x="1490.2" y="367"/>
<use href="#edges" x="1972.8" y="378"/>
<use href="#edges" x="2440.6" y="381.3"/>
<use href="#edges" x="2918.9" y="382"/>
<use href="#edges" x="525.2" y="669.3"/>
<use href="#edges" x="1012.1" y="678.3"/>
<use href="#edges" x="1490" y="675"/>
<use href="#edges" x="1968.7" y="678.3"/>
<use href="#edges" x="2440.3" y="687.3"/>
<use href="#edges" x="2918.9" y="687.7"/>
<use href="#edges" x="256.8" y="1005.3"/>
<use href="#edges" x="692.7" y="1003.7"/>
<use href="#edges" x="1127.5" y="1005.3"/>
<use href="#edges" x="1565.2" y="1005.3"/>
<use href="#edges" x="1998.5" y="998"/>
<use href="#edges" x="2431.9" y="997.3"/>
<use href="#edges" x="2913.9" y="991.3"/>
</g>
</svg>
